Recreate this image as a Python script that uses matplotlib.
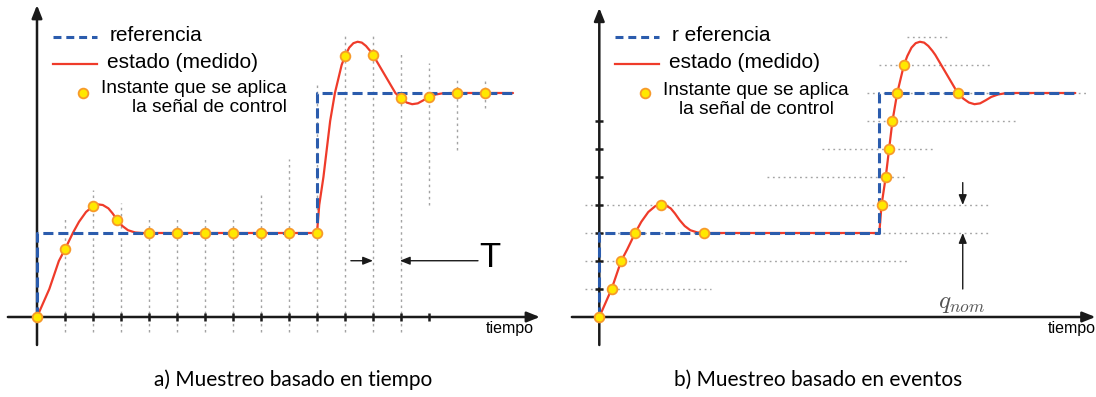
import matplotlib
matplotlib.use("Agg")
import matplotlib.pyplot as plt
from matplotlib.lines import Line2D

plt.rcParams["mathtext.fontset"] = "cm"

# ---------------- data ----------------
# reference step (time in sample periods T, value in quantisation levels)
ref_t = [0, 0, 10, 10, 17]
ref_y = [0, 3, 3, 8, 8]

state_t = [0, 0.44, 0.78, 1.0, 1.28, 1.5, 1.75, 2.0, 2.19, 2.35, 2.55, 2.7, 2.87,
           3.05, 3.25, 3.5, 3.74, 10.0, 10.08, 10.23, 10.35, 10.47, 10.64, 10.88,
           11.0, 11.15, 11.3, 11.45, 11.6, 11.75, 11.9, 12.0, 12.2, 12.4, 12.6,
           12.8, 13.0, 13.2, 13.4, 13.6, 13.8, 14.0, 14.25, 14.5, 14.8, 17.0]
state_y = [0, 1.0, 2.0, 2.42, 3.0, 3.4, 3.75, 3.96, 4.02, 4.0, 3.88, 3.7, 3.46,
           3.25, 3.1, 3.02, 3.0, 3.0, 4.0, 5.0, 6.0, 7.0, 8.0, 9.0,
           9.32, 9.62, 9.78, 9.83, 9.8, 9.68, 9.5, 9.36, 9.02, 8.68, 8.34,
           8.0, 7.8, 7.66, 7.6, 7.63, 7.74, 7.86, 7.95, 7.99, 8.0, 8.0]

# a) time-based sampling instants
time_sample_t = [0, 1, 2, 2.87, 4, 5, 6, 7, 8, 9, 10, 11, 12, 13, 14, 15, 16]
time_sample_y = [0, 2.42, 3.96, 3.46, 3, 3, 3, 3, 3, 3, 3, 9.32, 9.36, 7.82, 7.86, 8, 8]
time_ticks = [1, 2, 3, 4, 5, 6, 7, 8, 9, 10, 11, 12, 13, 14]
time_grid_k = [1, 2, 3, 4, 5, 6, 7, 8, 9, 10, 11, 12, 13, 14, 15, 16]
time_grid_bottom = [-0.55] * 13 + [4.0, 5.96, 7.46]
time_grid_top = [3.54, 4.54, 4.07, 3.54, 3.54, 3.54, 3.54, 4.36, 5.64, 8.39,
                 10.04, 10.04, 9.43, 9.07, 8.54, 8.54]

# b) event-based sampling instants
event_sample_t = [0, 0.44, 0.78, 1.28, 2.19, 3.74, 10.08, 10.23, 10.35, 10.47, 10.64, 10.88, 12.8]
event_sample_y = [0, 1, 2, 3, 4, 3, 4, 5, 6, 7, 8, 9, 8]
levels = [1, 2, 3, 4, 5, 6, 7, 8, 9, 10]
level_start = [-0.5, -0.5, -0.5, -0.5, 6.0, 7.96, 9.56, 9.56, 10.0, 11.0]
level_end = [4.0, 11.0, 14.0, 14.0, 11.0, 12.0, 14.96, 17.5, 14.0, 12.5]
level_ticks = [1, 2, 3, 4, 5, 6, 7]

legend_labels = ["referencia", "estado (medido)", "Instante que se aplica\nla señal de control"]
captions = ["a) Muestreo basado en tiempo", "b) Muestreo basado en eventos"]
xlabel = "tiempo"

# ---------------- styles ----------------
BLUE = "#2b5cad"
RED = "#ef3b2a"
DOT_FACE = "#ffe800"
DOT_EDGE = "#f79a2a"
AX = "#1a1a1a"
GRID = "#a3a3a3"
PX = 28.0  # pixels per unit
W, H = 1096, 397

fig = plt.figure(figsize=(W / 100, H / 100), dpi=100)


def make_ax(left_px, origin_x_px, origin_y_px=317):
    ax = fig.add_axes([left_px / W, 0, 548 / W, 1])
    ax.set_xlim((left_px - origin_x_px) / PX, (left_px + 548 - origin_x_px) / PX)
    ax.set_ylim((origin_y_px - H) / PX, origin_y_px / PX)
    ax.axis("off")
    return ax


def axes_arrows(ax, x0, x1, y0, y1):
    ap = dict(arrowstyle="-|>,head_length=0.55,head_width=0.22", lw=1.8, color=AX,
              shrinkA=0, shrinkB=0, mutation_scale=14)
    ax.annotate("", xy=(x1, 0), xytext=(x0, 0), arrowprops=ap, zorder=1)
    ax.annotate("", xy=(0, y1), xytext=(0, y0), arrowprops=ap, zorder=1)


def draw_signals(ax, st, sy):
    ax.plot(state_t, state_y, color=RED, lw=1.6, zorder=3, solid_capstyle="round")
    ax.plot(ref_t, ref_y, color=BLUE, lw=2.2, dashes=(3.3, 1.6), zorder=4)
    ax.plot(st, sy, ls="none", marker="o", ms=7, mfc=DOT_FACE, mec=DOT_EDGE,
            mew=1.3, zorder=5, clip_on=False)


def legend(ax, pos, third_ha, third_x, third_y, lab0):
    ax.add_line(Line2D([0.57, 2.14], [10.0, 10.0], color=BLUE, lw=2.2, dashes=(2.6, 1.6)))
    ax.add_line(Line2D([0.57, 2.14], [9.04, 9.04], color=RED, lw=1.6))
    ax.plot([1.64], [8.0], ls="none", marker="o", ms=7, mfc=DOT_FACE, mec=DOT_EDGE, mew=1.3)
    ax.text(pos[0], 10.07, lab0, fontsize=15, family="Liberation Sans", va="center", ha="left")
    ax.text(pos[1], 9.1, legend_labels[1], fontsize=15, family="Liberation Sans", va="center", ha="left")
    ax.text(third_x, third_y, legend_labels[2], fontsize=13.8, family="Liberation Sans",
            va="center", ha=third_ha, multialignment=third_ha, linespacing=1.17)


# ---------------- a) time based ----------------
axa = make_ax(0, 37)
axa.vlines(time_grid_k, time_grid_bottom, time_grid_top, colors=GRID, lw=1.0,
           linestyles=[(0, (1.8, 2.6))], zorder=0)
axes_arrows(axa, -1.04, 17.96, -1.0, 11.14)
axa.vlines(time_ticks, -0.14, 0.14, colors=AX, lw=1.8, zorder=1)
draw_signals(axa, time_sample_t, time_sample_y)
legend(axa, (2.61, 2.5), "right", 8.93, 7.82, legend_labels[0])
axa.text(17.75, -0.42, xlabel, fontsize=11.5, family="Liberation Sans", ha="right", va="center")
# T annotation
tp = dict(arrowstyle="-|>,head_length=0.5,head_width=0.2", lw=1.0, color=AX,
          shrinkA=0, shrinkB=0, mutation_scale=12)
axa.annotate("", xy=(12.0, 2.01), xytext=(11.21, 2.01), arrowprops=tp)
axa.annotate("", xy=(12.96, 2.01), xytext=(15.75, 2.01), arrowprops=tp)
axa.text(16.18, 2.14, "T", fontsize=25, family="Liberation Sans", ha="center", va="center")

# ---------------- b) event based ----------------
axb = make_ax(548, 599.3)
axb.hlines(levels, level_start, level_end, colors=GRID, lw=1.0,
           linestyles=[(0, (1.3, 2.6))], zorder=0)
axes_arrows(axb, -0.98, 17.72, -1.0, 11.04)
axb.hlines(level_ticks, -0.14, 0.14, colors=AX, lw=1.8, zorder=1)
draw_signals(axb, event_sample_t, event_sample_y)
legend(axb, (2.6, 2.49), "center", 5.6, 7.75, "r eferencia")
axb.text(17.72, -0.42, xlabel, fontsize=11.5, family="Liberation Sans", ha="right", va="center")
# q_nom annotation
qp = dict(arrowstyle="-|>,head_length=0.5,head_width=0.2", lw=1.0, color=AX,
          shrinkA=0, shrinkB=0, mutation_scale=12)
axb.annotate("", xy=(12.98, 4.0), xytext=(12.98, 4.8), arrowprops=qp)
axb.annotate("", xy=(12.98, 3.0), xytext=(12.98, 1.0), arrowprops=qp)
axb.text(12.95, 0.5, r"$q_{nom}$", fontsize=18, color="#555555", ha="center", va="center")

# ---------------- captions ----------------
fig.text(293 / W, 1 - 380 / H, captions[0], fontsize=15, family="Lato", ha="center", va="center")
fig.text(818 / W, 1 - 380 / H, captions[1], fontsize=15, family="Lato", ha="center", va="center")

fig.savefig("out.png", dpi=100)
